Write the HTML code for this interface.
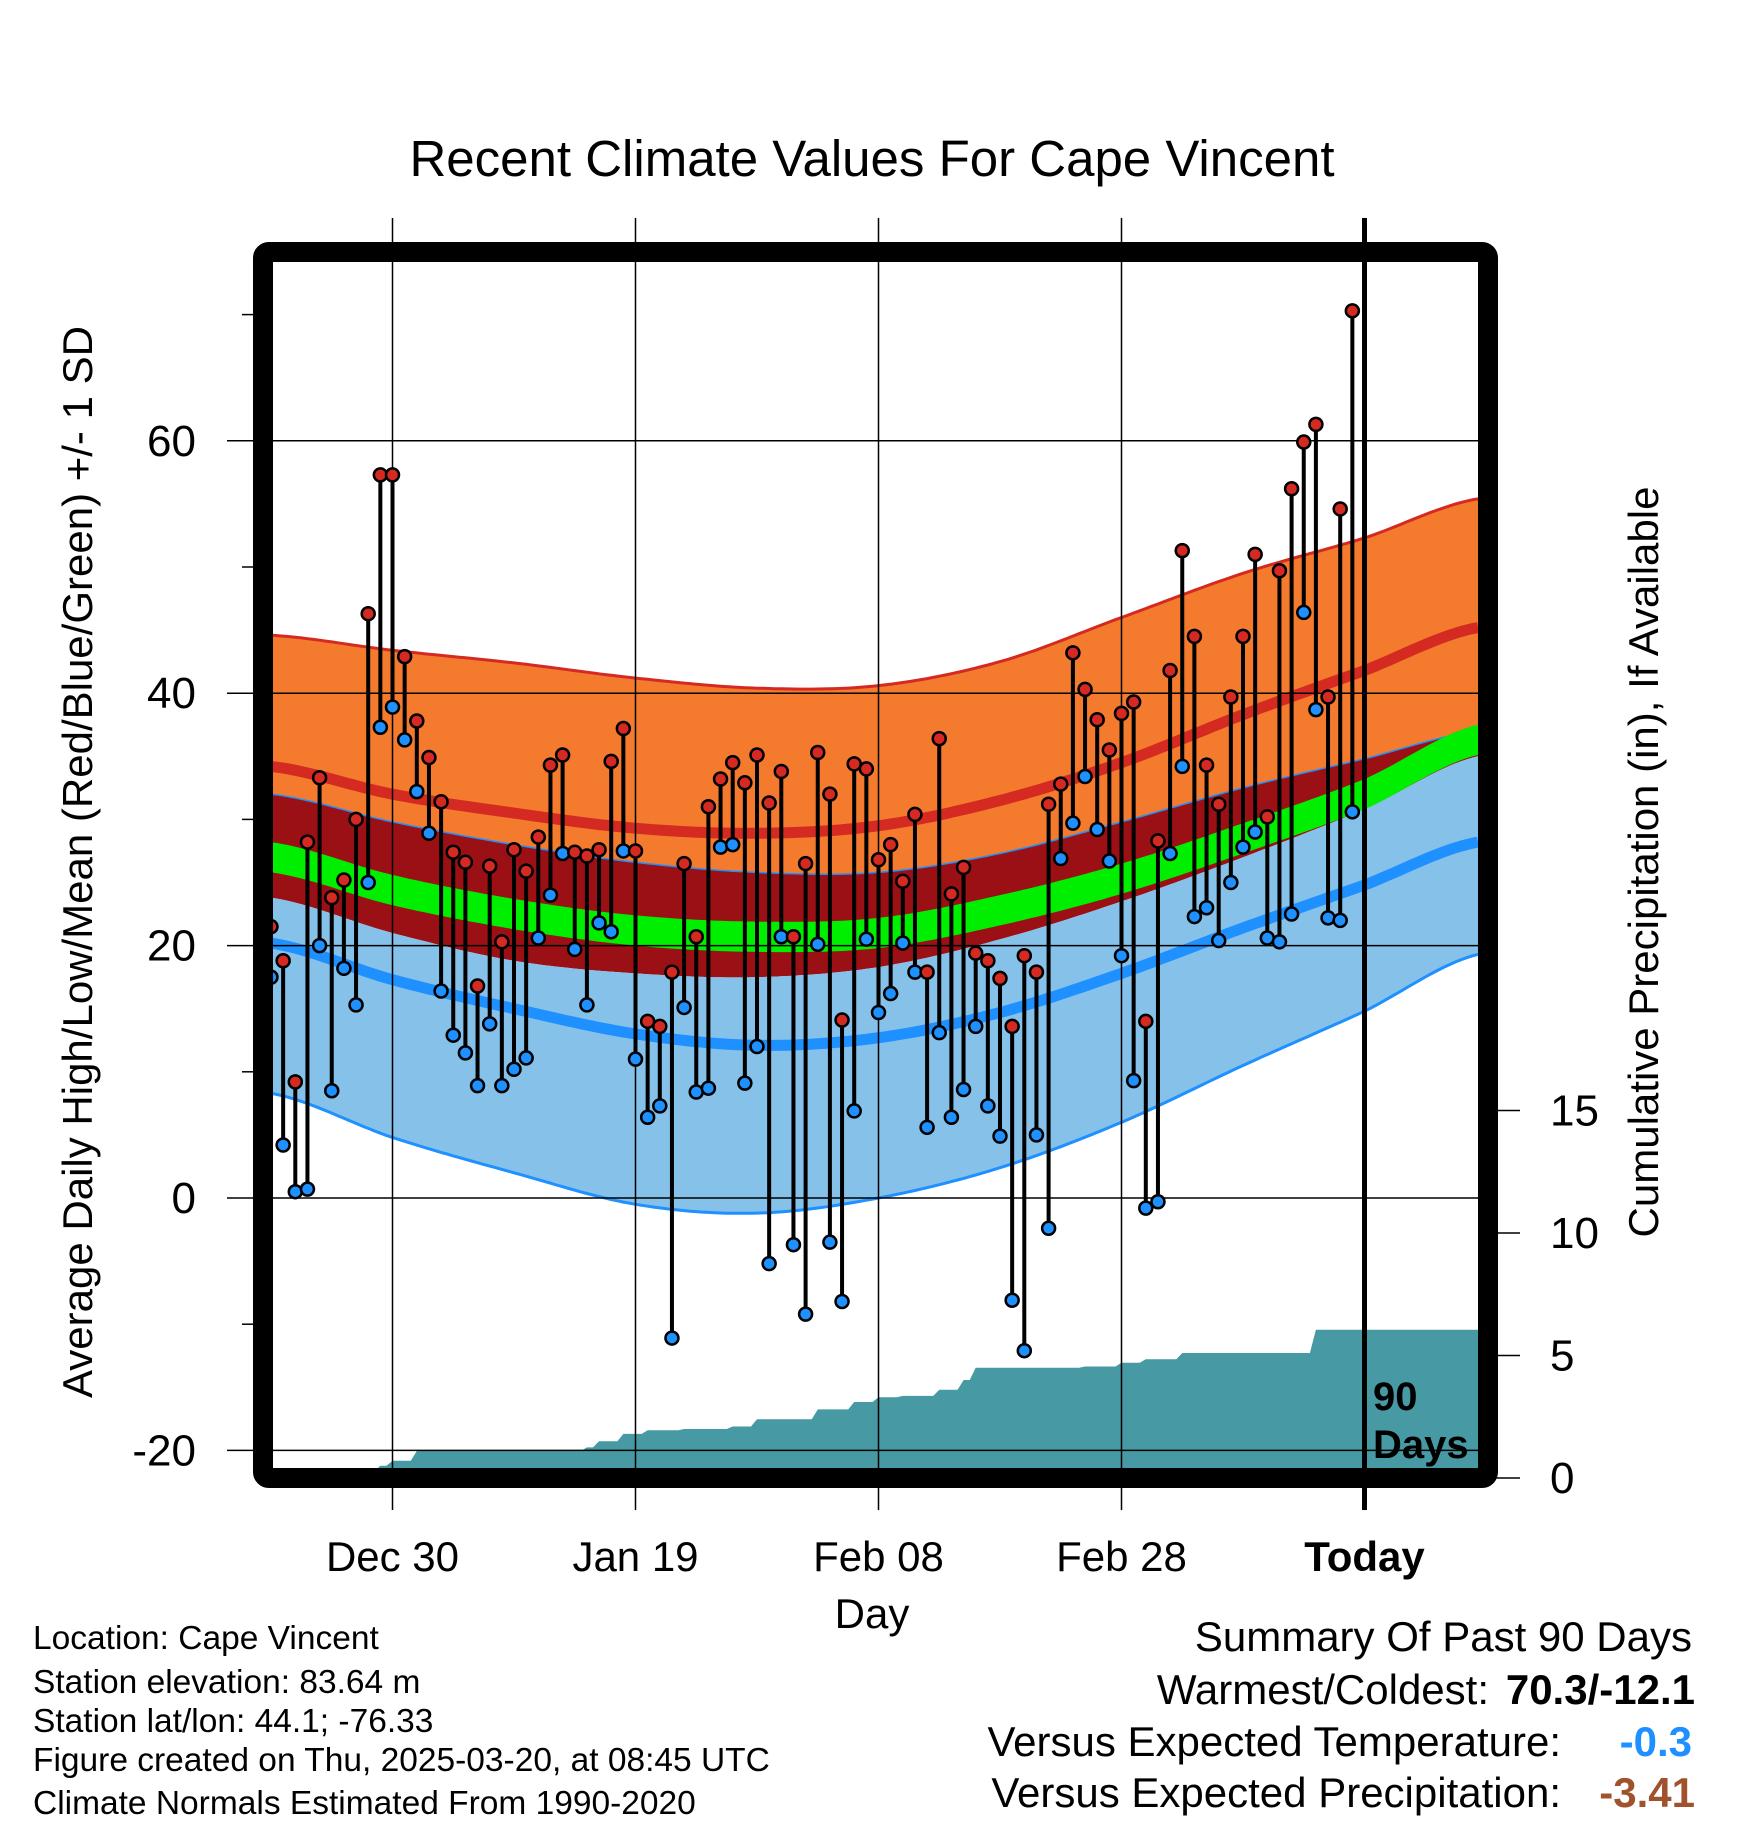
<!DOCTYPE html>
<html><head><meta charset="utf-8"><style>
html,body{margin:0;padding:0;background:#fff}
svg{display:block;font-family:"Liberation Sans",sans-serif}
</style></head><body>
<svg id="c" width="1748" height="1828" viewBox="0 0 1748 1828" xmlns="http://www.w3.org/2000/svg">
<text x="872" y="176" font-size="51" text-anchor="middle">Recent Climate Values For Cape Vincent</text>
<g id="plot"></g>
<text transform="translate(92,862) rotate(-90)" font-size="42" text-anchor="middle">Average Daily High/Low/Mean (Red/Blue/Green) +/- 1 SD</text>
<text transform="translate(1658,862) rotate(-90)" font-size="42" text-anchor="middle">Cumulative Precipitation (in), If Available</text>
<text x="872" y="1628" font-size="42" text-anchor="middle">Day</text>
<g font-size="33.5">
<text x="33" y="1649">Location: Cape Vincent</text>
<text x="33" y="1693">Station elevation: 83.64 m</text>
<text x="33" y="1732">Station lat/lon: 44.1; -76.33</text>
<text x="33" y="1771">Figure created on Thu, 2025-03-20, at 08:45 UTC</text>
<text x="33" y="1814">Climate Normals Estimated From 1990-2020</text>
</g>
<g font-size="42">
<text x="1692" y="1651" text-anchor="end">Summary Of Past 90 Days</text>
<text x="1489" y="1704" text-anchor="end">Warmest/Coldest:</text>
<text x="1695" y="1704" text-anchor="end" font-weight="bold">70.3/-12.1</text>
<text x="1561" y="1756" text-anchor="end">Versus Expected Temperature:</text>
<text x="1692" y="1756" text-anchor="end" font-weight="bold" fill="#1e90ff">-0.3</text>
<text x="1561" y="1807" text-anchor="end">Versus Expected Precipitation:</text>
<text x="1695" y="1807" text-anchor="end" font-weight="bold" fill="#a0522d">-3.41</text>
</g>
</svg>
<script>
const highs=[21.5,18.8,9.2,28.2,33.3,23.8,25.2,30.0,46.3,57.3,57.3,42.9,37.8,34.9,31.4,27.4,26.6,16.8,26.3,20.3,27.6,25.9,28.6,34.3,35.1,27.4,27.1,27.6,34.6,37.2,27.5,14.0,13.6,17.9,26.5,20.7,31.0,33.2,34.5,32.9,35.1,31.3,33.8,20.7,26.5,35.3,32.0,14.1,34.4,34.0,26.8,28.0,25.1,30.4,17.9,36.4,24.1,26.2,19.4,18.8,17.4,13.6,19.2,17.9,31.2,32.8,43.2,40.3,37.9,35.5,38.4,39.3,14.0,28.3,41.8,51.3,44.5,34.3,31.2,39.7,44.5,51.0,30.2,49.7,56.2,59.9,61.3,39.7,54.6,70.3];
const lows=[17.5,4.2,0.5,0.7,20.0,8.5,18.2,15.3,25.0,37.3,38.9,36.3,32.2,28.9,16.4,12.9,11.5,8.9,13.8,8.9,10.2,11.1,20.6,24.0,27.3,19.7,15.3,21.8,21.1,27.5,11.0,6.4,7.3,-11.1,15.1,8.4,8.7,27.8,28.0,9.1,12.0,-5.2,20.7,-3.7,-9.2,20.1,-3.5,-8.2,6.9,20.5,14.7,16.2,20.2,17.9,5.6,13.1,6.4,8.6,13.6,7.3,4.9,-8.1,-12.1,5.0,-2.4,26.9,29.7,33.4,29.2,26.7,19.2,9.3,-0.8,-0.3,27.3,34.2,22.3,23.0,20.4,25.0,27.8,29.0,20.6,20.3,22.5,46.4,38.7,22.2,22.0,30.6];
const normDays=[0,10,20,30,40,50,60,70,80,90,99.3];
const highPlusSD=[44.6,43.4,42.4,41.2,40.4,40.6,42.5,46.0,49.5,52.3,55.4];
const normHigh=[34.2,32.0,30.5,29.3,28.9,29.5,31.5,34.5,38.3,41.8,45.2];
const highMinusSD=[32.0,29.8,28.0,26.6,25.8,25.8,27.3,29.8,32.5,34.8,37.0];
const normMean=[27.0,24.4,22.5,21.2,20.7,21.0,22.8,25.3,28.5,32.0,36.3];
const lowPlusSD=[23.8,21.0,18.8,17.8,17.5,18.3,20.5,23.5,27.0,30.8,35.0];
const normLow=[20.2,17.3,15.0,13.0,12.1,12.7,14.7,17.8,21.4,24.8,28.2];
const lowMinusSD=[8.3,4.8,2.0,-0.5,-1.2,0.0,2.4,6.0,10.5,14.8,19.3];
const precipDays=[8,9,10,12,26,27,29,31,34,38,40,45,48,50,52,55,57,58,67,70,72,75,86];
const precipCum=[0.3,0.5,0.7,1.1,1.25,1.5,1.8,1.95,2.0,2.1,2.4,2.8,3.1,3.3,3.35,3.6,4.0,4.5,4.55,4.7,4.85,5.1,6.05];
const yTicks=[60,40,20,0,-20];
const yMinor=[70,50,30,10,-10];
const pTicks=[0,5,10,15];
const xTickLabels=["Dec 30","Jan 19","Feb 08","Feb 28","Today"];
const xTickDays=[10,30,50,70,90];

const NS="http://www.w3.org/2000/svg";
const g=document.getElementById('plot');
const L=273,R=1478,T=262,B=1468;
const X=d=>271+d*12.15;
const Y=v=>1198-v*12.62;
const PY=p=>1478-p*24.5;
function mk(tag,attrs,parent){const e=document.createElementNS(NS,tag);for(const k in attrs)e.setAttribute(k,attrs[k]);(parent||g).appendChild(e);return e;}
function interp(arr,d){for(let i=0;i<normDays.length-1;i++){if(d<=normDays[i+1]){const t=(d-normDays[i])/(normDays[i+1]-normDays[i]);
 const p0=arr[Math.max(i-1,0)],p1=arr[i],p2=arr[i+1],p3=arr[Math.min(i+2,arr.length-1)];
 return 0.5*((2*p1)+(-p0+p2)*t+(2*p0-5*p1+4*p2-p3)*t*t+(-p0+3*p1-3*p2+p3)*t*t*t);}}return arr[arr.length-1];}
function curvePts(arr){const pts=[];for(let d=0;d<=99.3;d+=0.5)pts.push([X(d),Y(interp(arr,d))]);pts.push([R,Y(interp(arr,99.3))]);return pts;}
function band(a,b,fill,name){const p1=curvePts(a),p2=curvePts(b).reverse();const s='M'+p1.concat(p2).map(p=>p[0].toFixed(1)+','+p[1].toFixed(1)).join('L')+'Z';
 const e=mk('path',{d:s,fill:fill});
 
 return e;}
function line(a,col,w,name){const s='M'+curvePts(a).map(p=>p[0].toFixed(1)+','+p[1].toFixed(1)).join('L');
 const e=mk('path',{d:s,fill:'none',stroke:col,'stroke-width':w});
 
 return e;}

band(highPlusSD,highMinusSD,'#f47b2e','high-sd-band');
band(highMinusSD,lowPlusSD,'#9b1015','mid-band');
band(lowPlusSD,lowMinusSD,'#85c1e9','low-sd-band');
line(highPlusSD,'#d42a22',3,'high-plus-sd-line');
line(highMinusSD,'#1e90ff',1.5,'high-minus-sd-line');
line(lowMinusSD,'#1e90ff',3,'low-minus-sd-line');
const meanTop=normMean.map(v=>v+1.2),meanBot=normMean.map(v=>v-1.2);
band(meanTop,meanBot,'#00ee00','mean-band');
line(normHigh,'#d42a22',11,'normal-high-line');
line(normLow,'#1e90ff',11,'normal-low-line');

// precip (step shape)
let ps='M'+(X(precipDays[0])-6).toFixed(1)+','+B;
let prev=0;
for(let i=0;i<precipDays.length;i++){const x=X(precipDays[i]);
 ps+='L'+(x-6).toFixed(1)+','+PY(prev).toFixed(1)+'L'+x.toFixed(1)+','+PY(precipCum[i]).toFixed(1);prev=precipCum[i];}
ps+='L'+R+','+PY(prev).toFixed(1)+'L'+R+','+B+'Z';
const pe=mk('path',{d:ps,fill:'#4799a3'});



yTicks.forEach(v=>{const e=mk('line',{x1:227,x2:R,y1:Y(v),y2:Y(v),stroke:'#000','stroke-width':1.5});
 
 
 const t=mk('text',{x:196,y:Y(v)+15,'font-size':44,'text-anchor':'end'});t.textContent=v;
 
 });
yMinor.forEach(v=>{const e=mk('line',{x1:242,x2:255,y1:Y(v),y2:Y(v),stroke:'#000','stroke-width':1.5});
 
 });
pTicks.forEach(p=>{const e=mk('line',{x1:1495,x2:1520,y1:PY(p),y2:PY(p),stroke:'#000','stroke-width':1.5});
 
 
 const t=mk('text',{x:1550,y:PY(p)+15,'font-size':44});t.textContent=p;
 
 });
xTickDays.forEach((d,i)=>{const today=i===xTickDays.length-1;
 const e=mk('line',{x1:X(d),x2:X(d),y1:218,y2:1510,stroke:'#000','stroke-width':today?5:1.5});
 
 
 const t=mk('text',{x:X(d),y:1571,'font-size':42,'text-anchor':'middle','font-weight':today?'bold':'normal'});t.textContent=xTickLabels[i];
 
 });

highs.forEach((h,i)=>{const x=X(i);
 const l=mk('line',{x1:x,x2:x,y1:Y(h),y2:Y(lows[i]),stroke:'#000','stroke-width':4});
 
 
 const c1=mk('circle',{cx:x,cy:Y(lows[i]),r:6.5,fill:'#1e90ff',stroke:'#000','stroke-width':2.5});
 
 
 const c2=mk('circle',{cx:x,cy:Y(h),r:6.5,fill:'#d42a22',stroke:'#000','stroke-width':2.5});
 
 });

const fr=mk('rect',{x:263,y:252,width:1225,height:1226,fill:'none',stroke:'#000','stroke-width':20,rx:6});


const t1=mk('text',{x:1373,y:1410,'font-size':40,'font-weight':'bold'});t1.textContent='90';


const t2=mk('text',{x:1373,y:1458,'font-size':40,'font-weight':'bold'});t2.textContent='Days';


</script>
</body></html>
